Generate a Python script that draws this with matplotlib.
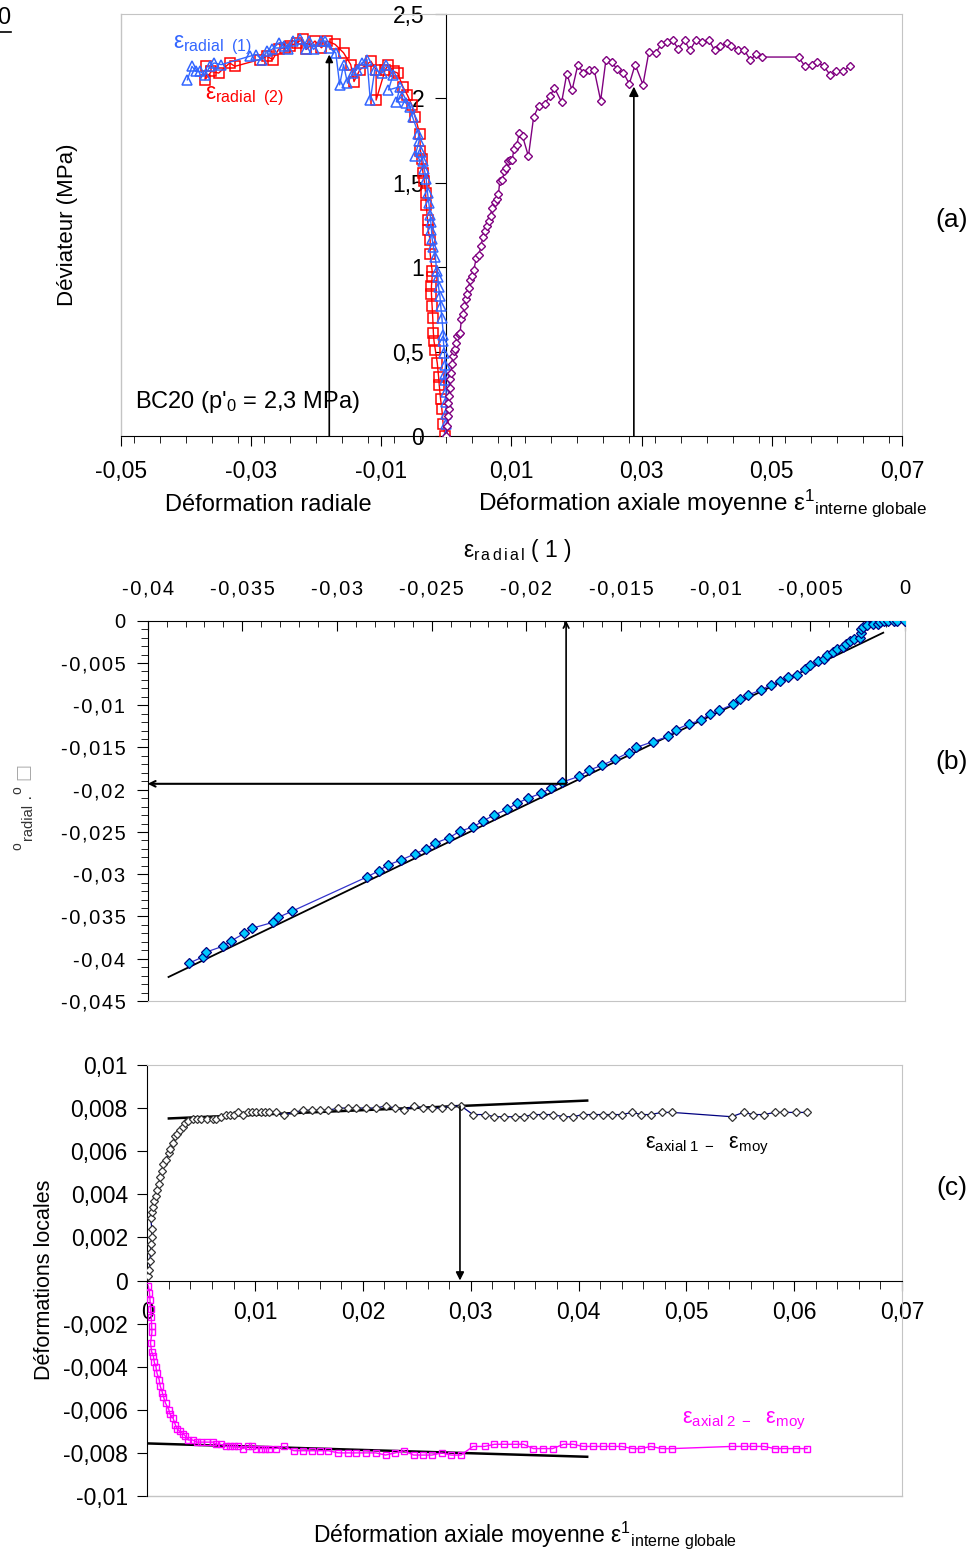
import matplotlib
matplotlib.use("Agg")
import matplotlib.pyplot as plt
from matplotlib.ticker import FixedLocator, FuncFormatter, MultipleLocator

plt.rcParams['font.family'] = ['Liberation Sans', 'DejaVu Sans']
plt.rcParams['mathtext.fontset'] = 'custom'
plt.rcParams['mathtext.rm'] = 'Liberation Sans'
plt.rcParams['mathtext.it'] = 'Liberation Sans:italic'
plt.rcParams['mathtext.bf'] = 'Liberation Sans:bold'

# ---------------- DATA ----------------
# Panel (a): deviator vs mean axial strain
axial_x = [0.0, 0.00016, 0.00027, 0.00043, 0.00032, 0.00043, 0.00054, 0.00059, 0.0007, 0.0008,
           0.001, 0.0011, 0.0013, 0.0015, 0.0017, 0.0019, 0.0021, 0.0023, 0.0026, 0.0027,
           0.003, 0.0032, 0.0034, 0.0037, 0.0039, 0.0042, 0.0046, 0.005, 0.0053, 0.0056,
           0.0059, 0.0062, 0.0065, 0.0068, 0.007, 0.0075, 0.0077, 0.008, 0.0082, 0.0086,
           0.0089, 0.0092, 0.0094, 0.0097, 0.0101, 0.0104, 0.0108, 0.0112, 0.0117, 0.0126,
           0.0134, 0.0142, 0.0151, 0.0159, 0.0166, 0.0177, 0.0185, 0.0193, 0.0202, 0.021,
           0.0219, 0.0227, 0.0237, 0.0245, 0.0254, 0.0262, 0.0272, 0.0281, 0.029, 0.0302,
           0.0311, 0.0322, 0.033, 0.0339, 0.0348, 0.0356, 0.0366, 0.0374, 0.0384, 0.0393,
           0.0403, 0.0412, 0.0421, 0.0431, 0.0438, 0.0448, 0.0458, 0.0467, 0.0476, 0.0485,
           0.0541, 0.0551, 0.0561, 0.057, 0.058, 0.059, 0.0599, 0.061, 0.062]
axial_q = [0.0, 0.059, 0.118, 0.158, 0.197, 0.237, 0.286, 0.335, 0.375, 0.424,
           0.474, 0.503, 0.513, 0.552, 0.592, 0.602, 0.612, 0.691, 0.720, 0.770,
           0.809, 0.839, 0.878, 0.927, 0.947, 0.983, 1.056, 1.075, 1.125, 1.180,
           1.213, 1.243, 1.273, 1.306, 1.352, 1.385, 1.405, 1.436, 1.509, 1.519,
           1.569, 1.588, 1.628, 1.638, 1.638, 1.701, 1.721, 1.796, 1.776, 1.657,
           1.890, 1.957, 1.967, 2.013, 2.062, 1.977, 2.147, 2.048, 2.200, 2.151,
           2.170, 2.170, 1.987, 2.226, 2.214, 2.176, 2.151, 2.086, 2.200, 2.082,
           2.273, 2.269, 2.322, 2.332, 2.344, 2.293, 2.344, 2.285, 2.348, 2.332,
           2.348, 2.285, 2.309, 2.328, 2.309, 2.289, 2.285, 2.226, 2.263, 2.245,
           2.245, 2.190, 2.200, 2.214, 2.190, 2.137, 2.161, 2.161, 2.194]

radial1_x = [-0.00005, 0.0, -0.00005, -0.00005, -0.00005, -0.00015, -0.0002, -0.00015, -0.0003, -0.00046,
             -0.00046, -0.0007, -0.00087, -0.001, -0.0012, -0.0013, -0.0015, -0.0017, -0.002, -0.0022,
             -0.0023, -0.0024, -0.0025, -0.0027, -0.0029, -0.0031, -0.0034, -0.0036, -0.0039, -0.0048,
             -0.0042, -0.0043, -0.0052, -0.0056, -0.0062, -0.0069, -0.0077, -0.0071, -0.0089, -0.0082,
             -0.0093, -0.0099, -0.011, -0.0117, -0.0122, -0.013, -0.0138, -0.0144, -0.0152, -0.0158,
             -0.0164, -0.017, -0.018, -0.0186, -0.0193, -0.0204, -0.0211, -0.0216, -0.0225, -0.0235,
             -0.0244, -0.025, -0.0257, -0.0268, -0.0276, -0.0284, -0.0292, -0.0302, -0.0346, -0.0357,
             -0.0363, -0.0371, -0.0379, -0.0385, -0.0391, -0.0398]
radial1_q = [0.0, 0.07, 0.13, 0.20, 0.26, 0.33, 0.37, 0.42, 0.49, 0.56,
             0.60, 0.70, 0.77, 0.83, 0.88, 0.94, 0.98, 1.06, 1.12, 1.17,
             1.22, 1.27, 1.31, 1.38, 1.44, 1.52, 1.58, 1.63, 1.68, 1.66,
             1.75, 1.79, 1.89, 1.95, 1.97, 2.01, 1.98, 2.07, 2.05, 2.14,
             2.20, 2.15, 2.17, 1.99, 2.23, 2.21, 2.17, 2.15, 2.09, 2.20,
             2.08, 2.27, 2.30, 2.34, 2.34, 2.29, 2.34, 2.29, 2.35, 2.34,
             2.29, 2.31, 2.33, 2.29, 2.28, 2.23, 2.26, 2.25, 2.20, 2.21,
             2.19, 2.14, 2.16, 2.16, 2.19, 2.11]

radial2_x = [-0.0002, -0.0005, -0.0007, -0.0009, -0.0011, -0.0012, -0.0014, -0.0017, -0.0019, -0.002,
             -0.0021, -0.0022, -0.0023, -0.0023, -0.0022, -0.0022, -0.0025, -0.0025, -0.0028, -0.0029,
             -0.0031, -0.0032, -0.0034, -0.0036, -0.0038, -0.004, -0.0041, -0.0048, -0.0053, -0.006,
             -0.0067, -0.0075, -0.0081, -0.0089, -0.0094, -0.0108, -0.0108, -0.0116, -0.0133, -0.0142,
             -0.0147, -0.0158, -0.0171, -0.0183, -0.0192, -0.0202, -0.0215, -0.0221, -0.023, -0.024,
             -0.0248, -0.0258, -0.0267, -0.0276, -0.0287, -0.0325, -0.0333, -0.035, -0.0361, -0.0371,
             -0.0369]
radial2_q = [0.0, 0.07, 0.16, 0.22, 0.30, 0.35, 0.43, 0.51, 0.56, 0.61,
             0.70, 0.77, 0.84, 0.89, 0.94, 0.98, 1.08, 1.16, 1.22, 1.28,
             1.37, 1.44, 1.51, 1.56, 1.64, 1.69, 1.79, 1.89, 1.96, 2.02,
             2.07, 2.15, 2.16, 2.20, 2.17, 1.99, 2.17, 2.22, 2.17, 2.10,
             2.20, 2.27, 2.32, 2.34, 2.30, 2.34, 2.29, 2.35, 2.33, 2.31,
             2.30, 2.29, 2.23, 2.25, 2.23, 2.19, 2.21, 2.15, 2.16, 2.11,
             2.19]

# Panel (b): radial (2) vs radial (1)
rad1_b = [-0.0378, -0.0371, -0.0369, -0.036, -0.0356, -0.0349, -0.0345, -0.0334, -0.0331, -0.0324,
          -0.0284, -0.0278, -0.0273, -0.0266, -0.0259, -0.0253, -0.0248, -0.0241, -0.0235, -0.0228,
          -0.0223, -0.0217, -0.021, -0.0205, -0.0199, -0.0192, -0.0187, -0.0181, -0.0172, -0.0167,
          -0.016, -0.0153, -0.0146, -0.0142, -0.0133, -0.0125, -0.0121, -0.0114, -0.0108, -0.0103,
          -0.0098, -0.0091, -0.0087, -0.0083, -0.0076, -0.0071, -0.0066, -0.0062, -0.0057, -0.0053,
          -0.005, -0.0046, -0.0043, -0.0041, -0.0038, -0.0036, -0.0033, -0.0031, -0.0029, -0.0027,
          -0.0024, -0.0023, -0.0023, -0.0022, -0.002, -0.0017, -0.0014, -0.0013, -0.0011, -0.0009,
          -0.0006, -0.0004, 0.0]
rad2_b = [-0.0405, -0.0398, -0.0392, -0.0385, -0.0379, -0.037, -0.0364, -0.0357, -0.0351, -0.0344,
          -0.0303, -0.0296, -0.0289, -0.0283, -0.0276, -0.027, -0.0263, -0.0257, -0.0249, -0.0244,
          -0.0237, -0.023, -0.0223, -0.0216, -0.021, -0.0204, -0.0198, -0.0191, -0.0184, -0.0177,
          -0.0171, -0.0164, -0.0156, -0.015, -0.0143, -0.0137, -0.0129, -0.0122, -0.0118, -0.011,
          -0.0106, -0.0099, -0.0093, -0.0088, -0.0082, -0.0076, -0.0071, -0.0067, -0.0064, -0.0057,
          -0.0052, -0.0048, -0.0045, -0.0041, -0.0037, -0.0034, -0.0031, -0.0028, -0.0024, -0.0022,
          -0.002, -0.0015, -0.001, -0.0007, -0.0005, -0.0004, -0.0004, -0.0002, 0.0, 0.0,
          0.0, 0.0, 0.0]
fit_b_x = [-0.0389, -0.00115]
fit_b_y = [-0.04216, -0.00142]

# Panel (c): local strains minus mean
loc_x = [0.0001, 0.0002, 0.00025, 0.0003, 0.00037, 0.0004, 0.00043, 0.0003, 0.0004, 0.00056,
         0.00065, 0.0008, 0.0009, 0.0011, 0.0012, 0.0014, 0.0015, 0.0017, 0.002, 0.0021,
         0.0024, 0.0026, 0.0028, 0.003, 0.0033, 0.0035, 0.0038, 0.0042, 0.0046, 0.005,
         0.0055, 0.0061, 0.0064, 0.0068, 0.0073, 0.0077, 0.008, 0.0084, 0.0089, 0.0093,
         0.0097, 0.0101, 0.0105, 0.0109, 0.0113, 0.0119, 0.0127, 0.0136, 0.0144, 0.0153,
         0.016, 0.0168, 0.0177, 0.0186, 0.0194, 0.0203, 0.0212, 0.0221, 0.023, 0.0238,
         0.0247, 0.0256, 0.0264, 0.0273, 0.0282, 0.0291, 0.0302, 0.0313, 0.0322, 0.0331,
         0.0341, 0.0349, 0.0358, 0.0367, 0.0376, 0.0386, 0.0395, 0.0404, 0.0413, 0.0423,
         0.0431, 0.044, 0.045, 0.0458, 0.0467, 0.0477, 0.0487, 0.0542, 0.0553, 0.0562,
         0.0572, 0.0582, 0.0591, 0.0602, 0.0612]
axial1_moy = [0.0002, 0.0005, 0.0009, 0.0013, 0.0017, 0.002, 0.0024, 0.0029, 0.0032, 0.0034,
              0.0037, 0.0039, 0.0042, 0.0045, 0.0048, 0.0051, 0.0054, 0.0056, 0.0059, 0.0061,
              0.0064, 0.0067, 0.0068, 0.007, 0.0071, 0.0073, 0.0074, 0.0075, 0.0075, 0.0075,
              0.0075, 0.0075, 0.0075, 0.0076, 0.0077, 0.0077, 0.0077, 0.0078, 0.0077, 0.0078,
              0.0078, 0.0078, 0.0078, 0.0078, 0.0078, 0.0078, 0.0077, 0.0078, 0.0079, 0.0079,
              0.0079, 0.0079, 0.008, 0.008, 0.008, 0.008, 0.008, 0.0081, 0.008, 0.0079,
              0.0081, 0.008, 0.008, 0.008, 0.0081, 0.0081, 0.0077, 0.0077, 0.0076, 0.0076,
              0.0076, 0.0076, 0.0077, 0.0077, 0.0077, 0.0076, 0.0076, 0.0077, 0.0077, 0.0077,
              0.0077, 0.0077, 0.0078, 0.0077, 0.0077, 0.0078, 0.0078, 0.0076, 0.0078, 0.0077,
              0.0077, 0.0078, 0.0078, 0.0078, 0.0078]
axial2_moy = [-0.00025, -0.00056, -0.0009, -0.0013, -0.0017, -0.0021, -0.0024, -0.0029, -0.0033, -0.0035,
              -0.0038, -0.004, -0.0043, -0.0046, -0.0049, -0.0052, -0.0054, -0.0057, -0.006, -0.0062,
              -0.0064, -0.0067, -0.0069, -0.007, -0.0071, -0.0072, -0.0074, -0.0074, -0.0075, -0.0075,
              -0.0075, -0.0075, -0.0076, -0.0076, -0.0077, -0.0077, -0.0077, -0.0077, -0.0078, -0.0077,
              -0.0077, -0.0078, -0.0078, -0.0078, -0.0078, -0.0078, -0.0077, -0.0079, -0.0079, -0.0079,
              -0.0079, -0.0079, -0.008, -0.008, -0.008, -0.008, -0.008, -0.0081, -0.008, -0.0079,
              -0.0081, -0.0081, -0.0081, -0.008, -0.0081, -0.0081, -0.0077, -0.0077, -0.0076, -0.0076,
              -0.0076, -0.0076, -0.0078, -0.0078, -0.0078, -0.0076, -0.0076, -0.0077, -0.0077, -0.0077,
              -0.0077, -0.0077, -0.0078, -0.0078, -0.0077, -0.0078, -0.0078, -0.0077, -0.0077, -0.0077,
              -0.0077, -0.0078, -0.0078, -0.0078, -0.0078]
fit_c1_x = [0.002, 0.0408]
fit_c1_y = [0.00752, 0.00835]
fit_c2_x = [0.0, 0.0408]
fit_c2_y = [-0.00756, -0.00818]

# Tick values
a_xticks = [-0.05, -0.03, -0.01, 0.01, 0.03, 0.05, 0.07]
a_yticks = [0, 0.5, 1, 1.5, 2, 2.5]
b_xticks = [-0.04, -0.035, -0.03, -0.025, -0.02, -0.015, -0.01, -0.005, 0]
b_yticks = [0, -0.005, -0.01, -0.015, -0.02, -0.025, -0.03, -0.035, -0.04, -0.045]
c_xticks = [0, 0.01, 0.02, 0.03, 0.04, 0.05, 0.06, 0.07]
c_yticks = [-0.01, -0.008, -0.006, -0.004, -0.002, 0, 0.002, 0.004, 0.006, 0.008, 0.01]

# Key points (arrows)
peak_radial_a = (-0.018, 2.26)
peak_axial_a = (0.0288, 2.07)
peak_b = (-0.0179, -0.0193)
peak_c = (0.029, 0.0081)

# ---------------- FIGURE ----------------
W, H = 979, 1550
fig = plt.figure(figsize=(W / 100, H / 100), dpi=100)
GRAY = '#C4C4C4'
HS = '\u200a'


def px(x, y):
    return x / W, 1 - y / H


def fmt(v, pos=None):
    s = f"{round(v, 6):g}".replace('.', ',')
    return '0' if s in ('-0', '0') else s


def fmt_spaced(v, pos=None):
    return HS.join(fmt(v))


def box(l, t, r, b):
    return [l / W, 1 - b / H, (r - l) / W, (b - t) / H]


# ---- Panel (a)
ax = fig.add_axes(box(121, 14, 902, 436))
ax.set_xlim(-0.05, 0.07)
ax.set_ylim(0, 2.5)
ax.plot(radial2_x, radial2_q, color='#FF0000', lw=1, marker='s', ms=6.5, mfc='none',
        mec='#FF0000', mew=1.1, zorder=3)
ax.plot(radial1_x, radial1_q, color='#3366FF', lw=1, marker='^', ms=7, mfc='none',
        mec='#3366FF', mew=1.1, zorder=4)
ax.plot(axial_x, axial_q, color='#800080', lw=1, marker='D', ms=4, mfc='white',
        mec='#800080', mew=1, zorder=4)
ax.spines['left'].set_position(('data', 0))
for s in ('top', 'right'):
    ax.spines[s].set_color(GRAY)
ax.plot([0, 0], [0, 1], transform=ax.transAxes, color=GRAY, lw=1, clip_on=False)
ax.xaxis.set_major_locator(FixedLocator(a_xticks))
ax.xaxis.set_minor_locator(MultipleLocator(0.004))
ax.yaxis.set_major_locator(FixedLocator(a_yticks))
ax.xaxis.set_major_formatter(FuncFormatter(fmt))
ax.yaxis.set_major_formatter(FuncFormatter(fmt))
ax.tick_params(axis='x', which='major', direction='out', length=7, pad=10, labelsize=16.5)
ax.tick_params(axis='x', which='minor', direction='out', length=5)
ax.tick_params(axis='y', which='major', direction='out', length=8, pad=8, labelsize=16.5)
ax.annotate('', xy=peak_radial_a, xytext=(peak_radial_a[0], 0),
            arrowprops=dict(arrowstyle='-|>', color='k', lw=1.2, mutation_scale=11,
                            shrinkA=0, shrinkB=0), zorder=6)
ax.annotate('', xy=peak_axial_a, xytext=(peak_axial_a[0], 0),
            arrowprops=dict(arrowstyle='-|>', color='k', lw=1.2, mutation_scale=14,
                            shrinkA=0, shrinkB=0), zorder=6)
fig.text(*px(135, 402), "BC20 (p'$_0$ = 2,3 MPa)", fontsize=17, ha='left', va='center')
fig.text(*px(173, 45), r"ε$_{\rm radial\ \ (1)}$", fontsize=16.5, color='#3366FF', ha='left', va='center')
fig.text(*px(205, 96), r"ε$_{\rm radial\ \ (2)}$", fontsize=16.5, color='#FF0000', ha='left', va='center')
fig.text(*px(68, 225), "Déviateur (MPa)", fontsize=16, rotation=90, ha='center', va='center')
fig.text(*px(268, 505), "Déformation radiale", fontsize=17, ha='center', va='center')
fig.text(*px(478, 503), r"Déformation axiale moyenne ε$^{1}$$_{\rm interne\ globale}$",
         fontsize=17.5, ha='left', va='center')
fig.text(*px(952, 220), "(a)", fontsize=19, ha='center', va='center')
fig.text(*px(10, 18), "0", fontsize=17, ha='right', va='center')
fig.add_artist(plt.Line2D([0, 11 / W], [1 - 32 / H, 1 - 32 / H], color='k', lw=1.2))

# ---- Panel (b)
bx = fig.add_axes(box(147.7, 620.7, 905, 1001))
bx.set_xlim(-0.04, 0)
bx.set_ylim(-0.045, 0)
bx.plot(fit_b_x, fit_b_y, color='k', lw=1.3, zorder=3)
bx.plot(rad1_b, rad2_b, color='#3333CC', lw=0.9, marker='D', ms=4.8, mfc='#00C8FF',
        mec='#000080', mew=0.9, zorder=4)
bx.xaxis.tick_top()
bx.xaxis.set_label_position('top')
for s in ('bottom', 'right'):
    bx.spines[s].set_color(GRAY)
bx.xaxis.set_major_locator(FixedLocator(b_xticks))
bx.xaxis.set_minor_locator(MultipleLocator(0.001))
bx.yaxis.set_major_locator(FixedLocator(b_yticks))
bx.yaxis.set_minor_locator(MultipleLocator(0.001))
bx.xaxis.set_major_formatter(FuncFormatter(fmt_spaced))
bx.yaxis.set_major_formatter(FuncFormatter(fmt_spaced))
bx.tick_params(axis='x', which='major', direction='in', length=7, pad=16, labelsize=14.5)
bx.tick_params(axis='x', which='minor', direction='in', length=4)
bx.tick_params(axis='y', which='major', direction='out', length=8, pad=8, labelsize=14.5)
bx.tick_params(axis='y', which='minor', direction='out', length=5)
bx.annotate('', xy=(peak_b[0], 0), xytext=peak_b,
            arrowprops=dict(arrowstyle='->', color='k', lw=1.2, mutation_scale=10,
                            shrinkA=0, shrinkB=0), zorder=6)
bx.annotate('', xy=(-0.04, peak_b[1]), xytext=peak_b,
            arrowprops=dict(arrowstyle='->', color='k', lw=1.5, mutation_scale=10,
                            shrinkA=0, shrinkB=0), zorder=6)
fig.text(*px(463, 551), r"ε$_{\rm r\,a\,d\,i\,a\,l}$ ( 1 )", fontsize=16.5, ha='left', va='center')
# garbled y-axis label (broken symbol font in the original)
fig.text(*px(17, 846), "o", fontsize=10, rotation=90, ha='center', va='center', color='#333333')
fig.text(*px(28, 822), "radial", fontsize=10.5, rotation=90, ha='center', va='center', color='#333333')
fig.text(*px(17, 790), "o", fontsize=10, rotation=90, ha='center', va='center', color='#333333')
fig.text(*px(29, 795), "·", fontsize=12, rotation=90, ha='center', va='center', color='#333333')
fig.text(*px(23, 772), "□", fontsize=13, rotation=90, ha='center', va='center', color='#AAAAAA',
         family=['DejaVu Sans'])
fig.text(*px(952, 762), "(b)", fontsize=19, ha='center', va='center')

# ---- Panel (c)
cx = fig.add_axes(box(147.3, 1065, 902, 1496))
cx.set_xlim(0, 0.07)
cx.set_ylim(-0.01, 0.01)
cx.plot(fit_c1_x, fit_c1_y, color='k', lw=1.8, zorder=3)
cx.plot(fit_c2_x, fit_c2_y, color='k', lw=1.8, zorder=3)
cx.plot(loc_x, axial1_moy, color='#000080', lw=0.9, marker='D', ms=3.6, mfc='white',
        mec='#333333', mew=0.9, zorder=4)
cx.plot(loc_x, axial2_moy, color='#FF00FF', lw=1, marker='s', ms=4.5, mfc='none',
        mec='#FF00FF', mew=1, zorder=4)
cx.spines['bottom'].set_position(('data', 0))
for s in ('top', 'right'):
    cx.spines[s].set_color(GRAY)
cx.plot([0, 1], [0, 0], transform=cx.transAxes, color=GRAY, lw=1, clip_on=False)
cx.xaxis.set_major_locator(FixedLocator(c_xticks))
cx.xaxis.set_minor_locator(MultipleLocator(0.002))
cx.yaxis.set_major_locator(FixedLocator(c_yticks))
cx.xaxis.set_major_formatter(FuncFormatter(fmt))
cx.yaxis.set_major_formatter(FuncFormatter(fmt))
cx.tick_params(axis='x', which='major', direction='out', length=7, pad=8, labelsize=16.5)
cx.tick_params(axis='x', which='minor', direction='out', length=6)
cx.tick_params(axis='y', which='major', direction='out', length=7, pad=7, labelsize=16.5)
cx.annotate('', xy=(peak_c[0], 0), xytext=peak_c,
            arrowprops=dict(arrowstyle='-|>', color='k', lw=1.2, mutation_scale=12,
                            shrinkA=0, shrinkB=0), zorder=6)
fig.text(*px(645, 1146), r"ε$_{\rm axial\ 1\ -}$  ε$_{\rm moy}$", fontsize=15.5, ha='left', va='center')
fig.text(*px(682, 1421), r"ε$_{\rm axial\ 2\ -}$  ε$_{\rm moy}$", fontsize=15.5, ha='left',
         va='center', color='#FF00FF')
fig.text(*px(45, 1280), "Déformations locales", fontsize=15.5, rotation=90, ha='center', va='center')
fig.text(*px(313, 1535), r"Déformation axiale moyenne ε$^{1}$$_{\rm interne\ globale}$",
         fontsize=16.5, ha='left', va='center')
fig.text(*px(952, 1188), "(c)", fontsize=19, ha='center', va='center')

fig.savefig('out.png', dpi=100)
